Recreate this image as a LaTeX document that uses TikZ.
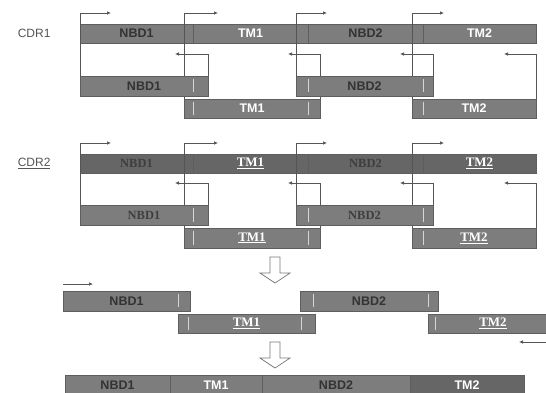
\documentclass[tikz,border=0pt]{standalone}
\usepackage{fontspec}
\setmainfont{Liberation Serif}
\setsansfont{Liberation Sans}
\usetikzlibrary{positioning,arrows.meta,backgrounds}

\definecolor{bargray}{HTML}{7D7D7D}
\definecolor{bardark}{HTML}{666666}
\definecolor{nbdtext}{HTML}{333333}
\definecolor{linegray}{HTML}{555555}
\definecolor{tickwhite}{HTML}{D5D5D5}

\begin{document}
\begin{tikzpicture}[
  x=1pt, y=-1pt,
  every node/.style={font=\sffamily},
  seg/.style={fill=bargray, draw=bargray!75!black, line width=0.4pt,
    minimum height=19pt, inner sep=0pt, outer sep=0pt, anchor=north west},
  nbd/.style={seg, text=nbdtext, font=\sffamily\bfseries\fontsize{12.5}{13}\selectfont},
  tm/.style={seg, text=white, font=\sffamily\bfseries\fontsize{12.5}{13}\selectfont},
  nbdserif/.style={seg, text=nbdtext!85!bargray, font=\rmfamily\bfseries\fontsize{12.5}{13}\selectfont},
  tmserif/.style={seg, text=white, font=\rmfamily\bfseries\fontsize{13}{13}\selectfont},
  cdr/.style={text=linegray, font=\sffamily\fontsize{12}{13}\selectfont},
  link/.style={draw=linegray, line width=0.7pt, -{Latex[length=4pt,width=3.5pt]}},
  tick/.style={draw=tickwhite, line width=0.7pt},
  hollow/.style={draw=linegray!80, fill=white, line width=0.7pt}
]

\begin{pgfonlayer}{background}
  \fill[white] (0,0) rectangle (546,393);
\end{pgfonlayer}
\useasboundingbox (0,0) rectangle (546,393);

% CDR1: lower bars
\node[nbd, minimum width=128pt, minimum height=20pt] (c1nbd1b) at (80,76) {NBD1};
\node[tm, minimum width=136pt] (c1tm1b) at (184,99) {TM1};
\node[nbd, minimum width=137pt, minimum height=20pt] (c1nbd2b) at (296,76) {NBD2};
\node[tm, minimum width=124pt] (c1tm2b) at (412,99) {TM2};
\foreach \tx/\ty in {193/76, 193/99, 308/99, 308/76, 423/76, 423/99}
  \draw[tick] (\tx,{\ty+3}) -- (\tx,{\ty+16});

% CDR1: full length bar and the links
\begin{pgfonlayer}{background}
  \node[nbd, minimum width=113pt] (c1nbd1) at (80,24) {NBD1};
  \node[tm, minimum width=115pt, right=0pt of c1nbd1] (c1tm1) {TM1};
  \node[nbd, minimum width=115pt, right=0pt of c1tm1] (c1nbd2) {NBD2};
  \node[tm, minimum width=113pt, right=0pt of c1nbd2] (c1tm2) {TM2};

  \coordinate (c1a1) at (111,13);
  \coordinate (c1a2) at (218,13);
  \coordinate (c1a3) at (327,13);
  \coordinate (c1a4) at (444,13);
  \coordinate (c1r1) at (175,54);
  \coordinate (c1r2) at (288,54);
  \coordinate (c1r3) at (400,54);
  \coordinate (c1r4) at (504,54);

  \draw[link] (c1nbd1b.north west) |- (c1a1);
  \draw[link] (c1tm1b.north west) |- (c1a2);
  \draw[link] (c1nbd2b.north west) |- (c1a3);
  \draw[link] (c1tm2b.north west) |- (c1a4);
  \draw[link] (c1nbd1b.north east) |- (c1r1);
  \draw[link] (c1tm1b.north east) |- (c1r2);
  \draw[link] (c1nbd2b.north east) |- (c1r3);
  \draw[link] (c1tm2b.north east) |- (c1r4);
\end{pgfonlayer}

\node[cdr, left=26pt of c1nbd1] (cdr1) {CDR1};

% CDR2: lower bars
\node[nbdserif, minimum width=128pt, minimum height=20pt] (c2nbd1b) at (80,205) {NBD1};
\node[tmserif, minimum width=136pt, minimum height=20pt] (c2tm1b) at (184,228) {\underline{TM1}};
\node[nbdserif, minimum width=137pt, minimum height=20pt] (c2nbd2b) at (296,205) {NBD2};
\node[tmserif, minimum width=124pt, minimum height=20pt] (c2tm2b) at (412,228) {\underline{TM2}};
\foreach \tx/\ty in {193/205, 193/228, 308/228, 308/205, 423/205, 423/228}
  \draw[tick] (\tx,{\ty+3}) -- (\tx,{\ty+17});

% CDR2: full length bar and the links
\begin{pgfonlayer}{background}
  \node[nbdserif, fill=bardark, minimum width=113pt] (c2nbd1) at (80,154) {NBD1};
  \node[tmserif, fill=bardark, minimum width=115pt, right=0pt of c2nbd1] (c2tm1) {\underline{TM1}};
  \node[nbdserif, fill=bardark, minimum width=115pt, right=0pt of c2tm1] (c2nbd2) {NBD2};
  \node[tmserif, fill=bardark, minimum width=113pt, right=0pt of c2nbd2] (c2tm2) {\underline{TM2}};

  \coordinate (c2a1) at (111,143);
  \coordinate (c2a2) at (218,143);
  \coordinate (c2a3) at (327,143);
  \coordinate (c2a4) at (444,143);
  \coordinate (c2r1) at (175,183);
  \coordinate (c2r2) at (288,183);
  \coordinate (c2r3) at (400,183);
  \coordinate (c2r4) at (504,183);

  \draw[link] (c2nbd1b.north west) |- (c2a1);
  \draw[link] (c2tm1b.north west) |- (c2a2);
  \draw[link] (c2nbd2b.north west) |- (c2a3);
  \draw[link] (c2tm2b.north west) |- (c2a4);
  \draw[link] (c2nbd1b.north east) |- (c2r1);
  \draw[link] (c2tm1b.north east) |- (c2r2);
  \draw[link] (c2nbd2b.north east) |- (c2r3);
  \draw[link] (c2tm2b.north east) |- (c2r4);
\end{pgfonlayer}

\node[cdr, left=26pt of c2nbd1] (cdr2) {\underline{CDR2}};

% hollow down arrows
\foreach \ya in {257,342}
  \draw[hollow] (270,\ya) -- (280,\ya) -- (280,{\ya+16}) -- (290,{\ya+16})
    -- (275,{\ya+26}) -- (260,{\ya+16}) -- (270,{\ya+16}) -- cycle;

% split pieces
\node[nbd, minimum width=127pt, minimum height=20pt] (snbd1) at (63,291) {NBD1};
\node[tmserif, minimum width=137pt] (stm1) at (178,314) {\underline{TM1}};
\node[nbd, minimum width=138pt, minimum height=20pt] (snbd2) at (300,291) {NBD2};
\node[tmserif, minimum width=130pt] (stm2) at (428,314) {\underline{TM2}};
\foreach \tx/\ty in {178/291, 188/314, 301/314, 313/291, 428/291, 435/314}
  \draw[tick] (\tx,{\ty+3}) -- (\tx,{\ty+16});

\coordinate (sin) at (93,284);
\coordinate (sedge) at (546,342);
\coordinate (sout) at (519,342);
\draw[link] (snbd1.north west |- sin) -- (sin);
\draw[link] (sedge) -- (sout);

% joined chain
\node[nbd, minimum width=105pt, minimum height=20pt] (fnbd1) at (65,375) {NBD1};
\node[tm, minimum width=92pt, minimum height=20pt, right=0pt of fnbd1] (ftm1) {TM1};
\node[nbd, minimum width=148pt, minimum height=20pt, right=0pt of ftm1] (fnbd2) {NBD2};
\node[tm, fill=bardark, minimum width=114pt, minimum height=20pt, right=0pt of fnbd2] (ftm2) {TM2};

\end{tikzpicture}
\end{document}
